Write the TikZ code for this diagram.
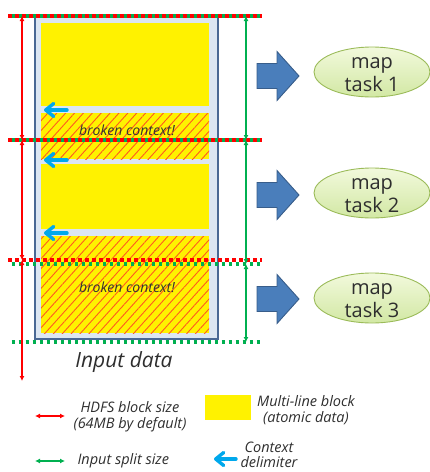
\documentclass[tikz,border=0pt]{standalone}
\usepackage{fontspec}
\setmainfont{Open Sans}
\usetikzlibrary{arrows.meta,patterns.meta,shapes.geometric}

\definecolor{hdfsred}{HTML}{FF0000}
\definecolor{splitgreen}{HTML}{00B050}
\definecolor{delimcyan}{HTML}{00A8EC}
\definecolor{framefill}{HTML}{DCE6F2}
\definecolor{frameline}{HTML}{4A6894}
\definecolor{bigarrow}{HTML}{4A7EBB}
\definecolor{bigarrowline}{HTML}{385D8A}
\definecolor{tasktop}{HTML}{F2F9DC}
\definecolor{taskbottom}{HTML}{D2E8A4}
\definecolor{taskline}{HTML}{9BBB59}
\definecolor{hatch}{HTML}{FF5A1E}
\definecolor{labeltext}{HTML}{2E2E2E}

\tikzset{
  datablock/.style={fill=yellow, draw=none, inner sep=0pt, anchor=north west},
  brokenblock/.style={datablock, postaction={pattern={Lines[angle=48,distance=6.6pt,line width=0.9pt]}, pattern color=hatch}},
  hdfsarrow/.style={hdfsred, line width=1.4pt, {Latex[length=5pt,width=5pt]}-{Latex[length=5pt,width=5pt]}},
  splitarrow/.style={splitgreen, line width=1.4pt, {Latex[length=5pt,width=5pt]}-{Latex[length=5pt,width=5pt]}},
  delimarrow/.style={delimcyan, line width=3.4pt, line cap=round,
    -{Straight Barb[length=8pt,width=13pt,line join=round,line cap=round]}},
  hdfsdots/.style={hdfsred, line width=3.5pt, dash pattern=on 3.5pt off 3.5pt},
  splitdots/.style={splitgreen, line width=3.5pt, dash pattern=on 3.5pt off 3.5pt, dash phase=3.5pt},
  maptask/.style={ellipse, minimum width=116pt, minimum height=50pt, inner sep=0pt,
    top color=tasktop, bottom color=taskbottom, draw=taskline, line width=0.9pt},
  tasklabel/.style={align=center, text=labeltext, font=\fontsize{20}{23}\selectfont},
  feed/.style={fill=bigarrow, draw=bigarrowline, line width=0.9pt},
  legendtext/.style={text=labeltext, align=center, font=\itshape\fontsize{14.5}{16}\selectfont},
  brokentext/.style={text=black!80, font=\itshape\fontsize{14}{16}\selectfont},
}

\begin{document}
\begin{tikzpicture}[x=1pt, y=-1pt]
\useasboundingbox (0,0) rectangle (430,472);

% input file frame
\node[fill=framefill, draw=frameline, line width=2pt, inner sep=0pt, anchor=north west,
      minimum width=183pt, minimum height=322pt] (input) at (34,16) {};

% records inside the file
\node[datablock, minimum width=168pt, minimum height=83pt] (blockA) at (41,23) {};
\node[brokenblock, minimum width=168pt, minimum height=46pt] (brokenA) at (41,113) {};
\node[datablock, minimum width=168pt, minimum height=65pt] (blockB) at (41,164) {};
\node[brokenblock, minimum width=168pt, minimum height=97pt] (brokenB) at (41,236) {};
\node[brokentext] (brokenAtext) at (127,130) {broken context!};
\node[brokentext] (brokenBtext) at (127,287) {broken context!};
\node[font=\itshape\fontsize{21}{24}\selectfont, text=labeltext] (inputlabel) at (124,362) {Input data};

% boundary lines
\coordinate (bL0) at (8,16);   \coordinate (bR0) at (262,16);
\coordinate (bL1) at (8,140);  \coordinate (bR1) at (262,140);
\coordinate (hL2) at (8,260);  \coordinate (hR2) at (262,260);
\coordinate (sL2) at (8,264);  \coordinate (sR2) at (262,264);
\coordinate (sL3) at (8,342);  \coordinate (sR3) at (262,342);
\draw[hdfsdots] (bL0) -- (bR0);
\draw[splitdots] (bL0) -- (bR0);
\draw[hdfsdots] (bL1) -- (bR1);
\draw[splitdots] (bL1) -- (bR1);
\draw[hdfsdots] (hL2) -- (hR2);
\draw[splitdots] (sL2) -- (sR2);
\draw[splitdots] (sL3) -- (sR3);

% HDFS block extents
\coordinate (h0) at (22,16);
\coordinate (h1) at (22,140);
\coordinate (h2) at (22,260);
\coordinate (h3) at (22,381);
\draw[hdfsarrow] (h0) -- (h1);
\draw[hdfsarrow] (h1) -- (h2);
\draw[hdfsarrow] (h2) -- (h3);

% input split extents
\coordinate (s0) at (246,16);
\coordinate (s1) at (246,140);
\coordinate (s2) at (246,264);
\coordinate (s3) at (246,342);
\draw[splitarrow] (s0) -- (s1);
\draw[splitarrow] (s1) -- (s2);
\draw[splitarrow] (s2) -- (s3);

% context delimiters
\coordinate (d1s) at (67,110);  \coordinate (d1e) at (44,110);
\coordinate (d2s) at (67,160);  \coordinate (d2e) at (44,160);
\coordinate (d3s) at (67,233);  \coordinate (d3e) at (44,233);
\draw[delimarrow] (d1s) -- (d1e);
\draw[delimarrow] (d2s) -- (d2e);
\draw[delimarrow] (d3s) -- (d3e);

% splits feeding map tasks
\foreach \yc in {76,195,299}{
  \draw[feed] (257,\yc-12.5) -- (277,\yc-12.5) -- (277,\yc-24.5) -- (299,\yc)
     -- (277,\yc+24.5) -- (277,\yc+12.5) -- (257,\yc+12.5) -- cycle;
}
\node[maptask] (task1) at (372,72) {};
\node[maptask] (task2) at (372,193) {};
\node[maptask] (task3) at (372,298) {};
\node[tasklabel] at ([yshift=-2.5pt]task1.center) {map\\task 1};
\node[tasklabel] at ([yshift=-2.5pt]task2.center) {map\\task 2};
\node[tasklabel] at ([yshift=-2.5pt]task3.center) {map\\task 3};

% legend
\coordinate (lh1) at (35,416); \coordinate (lh2) at (65,416);
\draw[hdfsarrow] (lh1) -- (lh2);
\node[legendtext] (lhtext) at (130,417) {HDFS block size\\(64MB by default)};
\node[fill=yellow, inner sep=0pt, minimum width=46pt, minimum height=25pt] (lyellow) at (228,407.5) {};
\node[legendtext] (lytext) at (306,410) {Multi-line block\\(atomic data)};
\coordinate (ls1) at (35,461); \coordinate (ls2) at (65,461);
\draw[splitarrow] (ls1) -- (ls2);
\node[legendtext, anchor=west] (lstext) at (74,461) {Input split size};
\coordinate (lc1) at (236,459); \coordinate (lc2) at (214,459);
\draw[delimarrow] (lc1) -- (lc2);
\node[legendtext, font=\itshape\fontsize{14.5}{15}\selectfont] (lctext) at (269,455) {Context\\delimiter};
\end{tikzpicture}
\end{document}
